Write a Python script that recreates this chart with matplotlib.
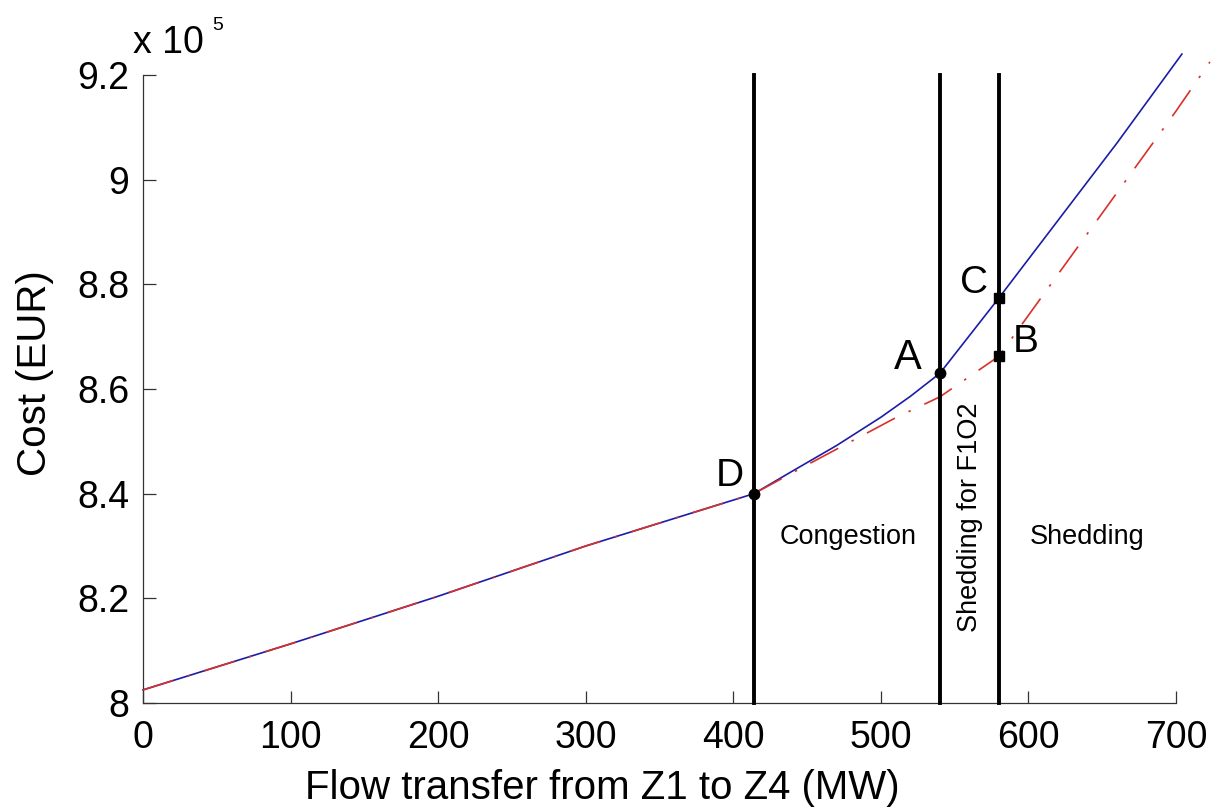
import numpy as np
import matplotlib
matplotlib.use("Agg")
import matplotlib.pyplot as plt

plt.rcParams['font.family'] = ['Liberation Sans', 'DejaVu Sans']

# cost values in units of 1e5 EUR
flow_blue = [0, 100, 200, 300, 414, 440, 470, 500, 520, 540, 580, 620, 660, 704]
cost_blue = [8.025, 8.113, 8.204, 8.300, 8.400, 8.443, 8.492, 8.546, 8.586, 8.630,
             8.774, 8.922, 9.070, 9.240]

flow_red = [0, 100, 200, 300, 414, 450, 480, 510, 540, 580, 620, 660, 700, 723]
cost_red = [8.025, 8.113, 8.204, 8.300, 8.400, 8.455, 8.500, 8.545, 8.585, 8.6625,
            8.819, 8.975, 9.131, 9.225]

limits = [414, 540, 580]

pt_labels = ['D', 'A', 'C', 'B']
pt_flow = [414, 540, 580, 580]
pt_cost = [8.400, 8.630, 8.774, 8.6625]
pt_marker = ['o', 'o', 's', 's']

fig = plt.figure(figsize=(12.15, 8.07), dpi=100)
ax = fig.add_axes([143 / 1215, 1 - 703 / 807, (1176 - 143) / 1215, (703 - 75) / 807])

ax.plot(flow_blue, cost_blue, color='#1c1ca8', lw=1.2, clip_on=False, zorder=3)
ax.plot(flow_red, cost_red, color='#d8302a', lw=1.2, clip_on=False, zorder=4,
        linestyle=(0, (19, 9, 1.5, 9)))

for x in limits:
    ax.plot([x, x], [8, 9.2], color='black', lw=2.8, zorder=5, clip_on=False)

for lab, x, y, m in zip(pt_labels, pt_flow, pt_cost, pt_marker):
    ax.plot(x, y, marker=m, color='black', ms=7.5 if m == 'o' else 6.5,
            zorder=6, clip_on=False)

ax.text(397.5, 8.433, 'D', fontsize=28, ha='center', va='center')
ax.text(518, 8.659, 'A', fontsize=30, ha='center', va='center')
ax.text(563, 8.802, 'C', fontsize=28, ha='center', va='center')
ax.text(598, 8.689, 'B', fontsize=28, ha='center', va='center')

ax.text(477.5, 8.304, 'Congestion', fontsize=19.5, ha='center', va='baseline')
ax.text(640, 8.304, 'Shedding', fontsize=19.5, ha='center', va='baseline')
ax.text(560.6, 8.355, 'Shedding for F1O2', fontsize=19.5, ha='center', va='center',
        rotation=90)

ax.set_xlim(0, 700)
ax.set_ylim(8, 9.2)
ax.set_xticks([0, 100, 200, 300, 400, 500, 600, 700])
ax.set_yticks([8, 8.2, 8.4, 8.6, 8.8, 9, 9.2])
ax.set_yticklabels(['8', '8.2', '8.4', '8.6', '8.8', '9', '9.2'])

for s in ['top', 'right']:
    ax.spines[s].set_visible(False)
for s in ['left', 'bottom']:
    ax.spines[s].set_color('#333333')
    ax.spines[s].set_linewidth(0.9)

ax.tick_params(direction='in', length=9, width=0.9, color='#333333',
               labelsize=27, pad=12)
ax.tick_params(axis='y', pad=10)

ax.set_xlabel('Flow transfer from Z1 to Z4 (MW)', fontsize=29)
ax.xaxis.set_label_coords(0.445, -0.105)
ax.set_ylabel('Cost (EUR)', fontsize=29)
ax.yaxis.set_label_coords(-0.086, 0.5255)

fig.text(133 / 1215, 1 - 53 / 807, 'x 10', fontsize=27, ha='left', va='baseline')
fig.text(212 / 1215, 1 - 30 / 807, '5', fontsize=14, ha='left', va='baseline')

fig.savefig('out.png', dpi=100)
